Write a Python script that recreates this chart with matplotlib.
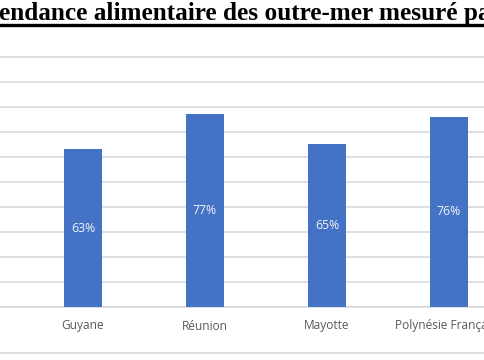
import matplotlib
matplotlib.use("Agg")
import matplotlib.pyplot as plt
from matplotlib.lines import Line2D

# Dependency rate per territory (percent)
territories = ["Guyane", "Réunion", "Mayotte", "Polynésie Française"]
rates = [63, 77, 65, 76]
title = "endance alimentaire des outre-mer mesuré par"

bar_color = "#4472C4"
grid_color = "#D9D9D9"
label_color = "#595959"

fig = plt.figure(figsize=(4.85, 3.6), dpi=100)
ax = fig.add_axes([0.0, 53 / 360, 1.0, (307 - 56) / 360])

x = list(range(len(territories)))
bars = ax.bar(x, rates, width=0.31, color=bar_color, zorder=3)

for rect, v in zip(bars, rates):
    ax.text(rect.get_x() + rect.get_width() / 2, v / 2, f"{v}%",
            ha="center", va="center", color="#F2F4FA", fontsize=8.8,
            family="Open Sans", zorder=4)

# slot width is about 122 px, first bar centred at 83 px
ax.set_xlim(-83 / 122, (485 - 83) / 122)
ax.set_ylim(0, 100.3)
ax.set_yticks(range(0, 101, 10))
ax.yaxis.grid(True, color=grid_color, linewidth=1.2, zorder=0)
ax.set_yticklabels([])
ax.tick_params(axis="y", length=0)

ax.set_xticks(x)
ax.set_xticklabels(territories, fontsize=8.6, color=label_color, family="Open Sans")
ax.tick_params(axis="x", length=0, pad=9)

for side in ["left", "right", "top"]:
    ax.spines[side].set_visible(False)
ax.spines["bottom"].set_color(grid_color)
ax.spines["bottom"].set_linewidth(1.2)

# chart border at the bottom
fig.add_artist(Line2D([0, 1], [7 / 360, 7 / 360], color=grid_color, lw=1.2,
                      transform=fig.transFigure))

# underlined document heading, cut by the crop
fig.text(-0.002, 1 - 20 / 360, title, ha="left", va="baseline",
         fontsize=18.2, fontweight="bold", family="Liberation Serif", color="black")
fig.add_artist(Line2D([0, 1], [1 - 24.5 / 360] * 2, color="black", lw=2.4,
                      transform=fig.transFigure))

fig.savefig("out.png", dpi=100)
